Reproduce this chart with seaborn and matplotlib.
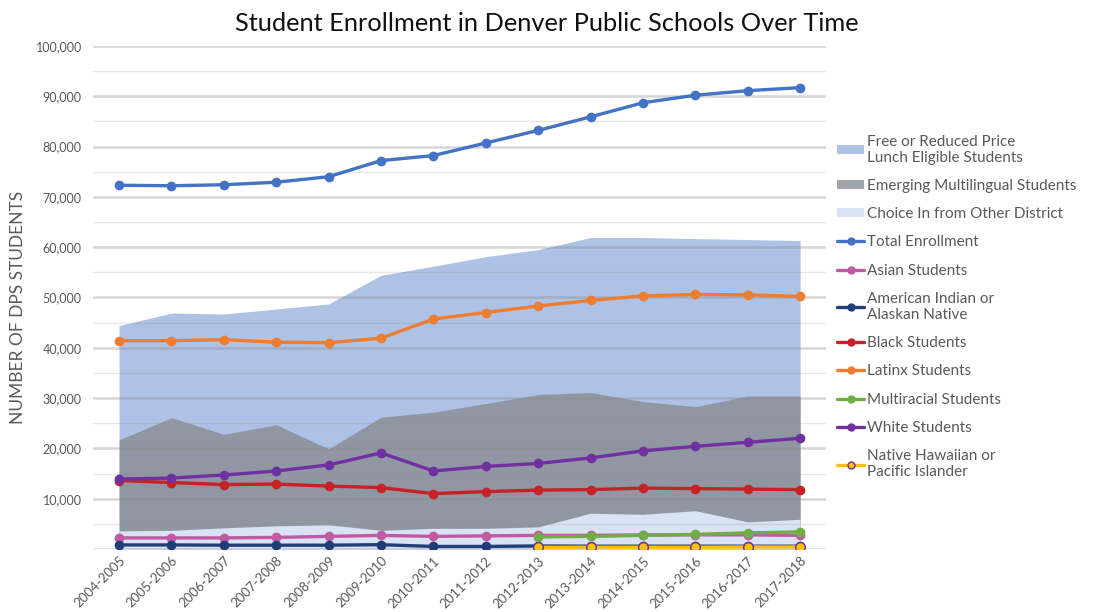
import numpy as np
import pandas as pd
import matplotlib
matplotlib.use("Agg")
import matplotlib.pyplot as plt
from matplotlib.lines import Line2D
from matplotlib.patches import Patch
from matplotlib.ticker import MultipleLocator, FuncFormatter
import seaborn as sns

years = ["2004-2005", "2005-2006", "2006-2007", "2007-2008", "2008-2009", "2009-2010",
         "2010-2011", "2011-2012", "2012-2013", "2013-2014", "2014-2015", "2015-2016",
         "2016-2017", "2017-2018"]

free_reduced = [44400, 46900, 46700, 47700, 48700, 54400, 56200, 58100, 59500, 61900, 61900, 61700, 61500, 61300]
emerging_ml = [21700, 26100, 22800, 24700, 19900, 26200, 27200, 28900, 30700, 31100, 29300, 28300, 30400, 30400]
choice_in = [3600, 3700, 4200, 4600, 4800, 3700, 4100, 4100, 4400, 7100, 6900, 7600, 5400, 5900]

total = [72300, 72200, 72400, 72900, 74000, 77200, 78200, 80700, 83200, 85900, 88700, 90200, 91100, 91700]
asian = [2200, 2200, 2200, 2300, 2500, 2700, 2500, 2600, 2700, 2700, 2800, 2800, 2800, 2700]
am_indian = [800, 800, 750, 750, 750, 850, 500, 500, 600, 550, 550, 550, 550, 550]
black = [13600, 13200, 12800, 12900, 12500, 12200, 11000, 11400, 11700, 11800, 12100, 12000, 11900, 11800]
latinx = [41400, 41400, 41600, 41100, 41000, 41900, 45700, 47000, 48300, 49400, 50300, 50600, 50500, 50200]
multiracial = [np.nan] * 8 + [2400, 2500, 2700, 2900, 3200, 3400]
white = [13900, 14100, 14700, 15500, 16700, 19100, 15500, 16400, 17000, 18100, 19500, 20400, 21200, 22000]
hawaiian = [np.nan] * 8 + [350, 350, 350, 350, 400, 400]

area_labels = ["Free or Reduced Price\nLunch Eligible Students", "Emerging Multilingual Students",
               "Choice In from Other District"]
line_labels = ["Total Enrollment", "Asian Students", "American Indian or\nAlaskan Native",
               "Black Students", "Latinx Students", "Multiracial Students", "White Students",
               "Native Hawaiian or\nPacific Islander"]

sns.set_style("white")
plt.rcParams["font.family"] = ["Lato", "DejaVu Sans"]

fig = plt.figure(figsize=(10.93, 6.12), dpi=100)
ax = fig.add_axes([0.085, 0.103, 0.671, 0.822])

x = np.arange(len(years))

area_colors = [("#4472C4", 0.43), ("#8E939B", 0.9), ("#DAE3F3", 1.0)]
for vals, (c, a) in zip([free_reduced, emerging_ml, choice_in], area_colors):
    ax.fill_between(x, 0, vals, color=c, alpha=a, linewidth=0, zorder=1)

line_colors = ["#4472C4", "#C15AA3", "#203F78", "#C82229", "#ED7D31", "#70AD47", "#7030A0", "#FFC000"]
series = [total, asian, am_indian, black, latinx, multiracial, white, hawaiian]

rows = []
for lab, vals in zip(line_labels, series):
    for xi, v in zip(x, vals):
        rows.append({"x": xi, "value": v, "series": lab})
df = pd.DataFrame(rows)

for lab, c in zip(line_labels, line_colors):
    sub = df[df["series"] == lab].dropna()
    edge = "#7030A0" if lab.startswith("Native Hawaiian") else c
    ew = 1.0 if lab.startswith("Native Hawaiian") else 0
    sns.lineplot(data=sub, x="x", y="value", ax=ax, color=c, linewidth=2.4,
                 marker="o", markersize=7, markerfacecolor=c,
                 markeredgecolor=edge, markeredgewidth=ew, zorder=3)

ax.set_xlim(-0.5, 13.5)
ax.set_ylim(0, 100000)
ax.yaxis.set_major_locator(MultipleLocator(10000))
ax.yaxis.set_minor_locator(MultipleLocator(5000))
ax.yaxis.set_major_formatter(FuncFormatter(lambda v, p: "" if v == 0 else f"{int(v):,}"))
ax.set_axisbelow("line")
ax.grid(axis="y", which="major", color="#8A8A8A", alpha=0.35, linewidth=1.8, zorder=1.5)
ax.grid(axis="y", which="minor", color="#8A8A8A", alpha=0.2, linewidth=1.0, zorder=1.5)
ax.grid(axis="x", visible=False)
for s in ax.spines.values():
    s.set_visible(False)

ax.set_xticks(x)
ax.set_xticklabels(years, rotation=45, ha="right", rotation_mode="anchor",
                   fontsize=9.5, color="#595959")
ax.tick_params(axis="y", labelsize=9, labelcolor="#595959", length=0, pad=8)
ax.tick_params(axis="y", which="minor", length=0)
ax.tick_params(axis="x", length=0, pad=4)
ax.set_xlabel("")
ax.set_ylabel("")
fig.text(18 / 1093, 1 - 307 / 612, "NUMBER OF DPS STUDENTS", rotation=90,
         ha="center", va="center", fontsize=12.5, color="#595959")

fig.text(0.5, 0.962, "Student Enrollment in Denver Public Schools Over Time",
         ha="center", va="center", fontsize=18.3, color="#111111")

handles = [Patch(facecolor="#AFC3E5", edgecolor="none"),
           Patch(facecolor="#A0A4AB", edgecolor="none"),
           Patch(facecolor="#DAE3F3", edgecolor="none")]
for lab, c in zip(line_labels, line_colors):
    edge = "#7030A0" if lab.startswith("Native Hawaiian") else c
    handles.append(Line2D([], [], color=c, linewidth=2.4, marker="o", markersize=5,
                          markerfacecolor=c, markeredgecolor=edge))
leg = fig.legend(handles, area_labels + line_labels, loc="upper left",
                 bbox_to_anchor=(0.76, 0.79), frameon=False, fontsize=11,
                 handlelength=1.8, handleheight=0.55, handletextpad=0.2,
                 labelspacing=0.93, labelcolor="#595959", borderaxespad=0)

fig.savefig("out.png", dpi=100)
